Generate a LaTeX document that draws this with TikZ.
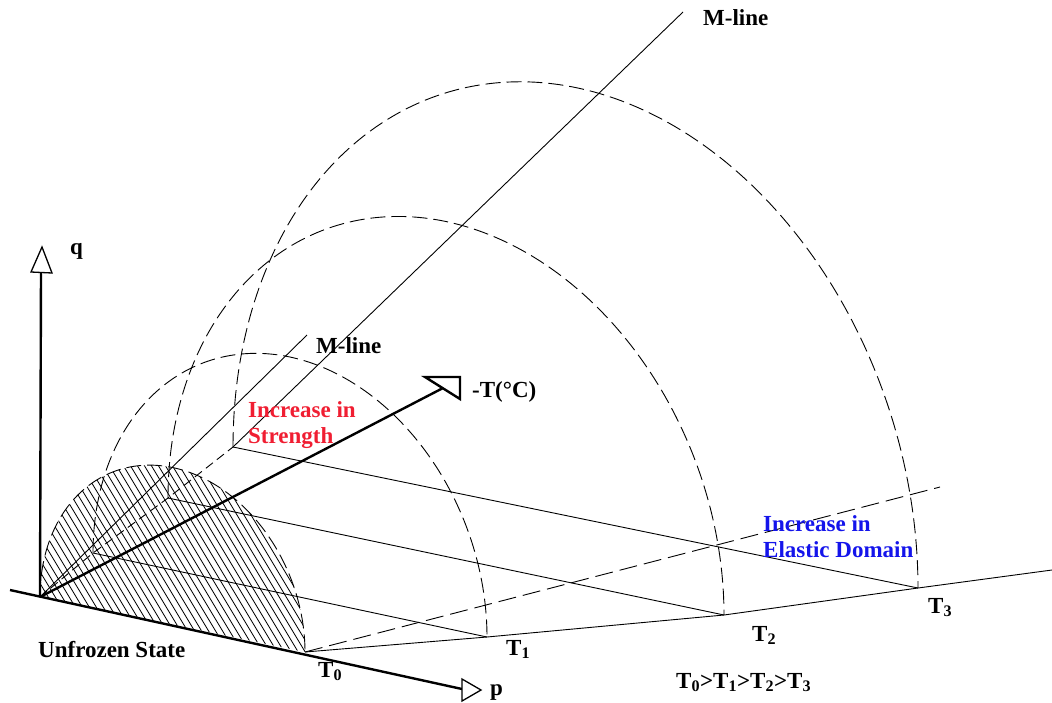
\documentclass[tikz,border=0pt]{standalone}
\usepackage{fontspec}
\setmainfont{Liberation Serif}
\definecolor{strred}{RGB}{240,30,50}
\definecolor{domblue}{RGB}{20,20,235}
\begin{document}
\begin{tikzpicture}[x=1pt,y=1pt,
  thinl/.style={line width=0.9pt},
  axisl/.style={line width=2.4pt},
  dsh/.style={line width=0.9pt, dash pattern=on 15pt off 6pt},
  dshb/.style={line width=0.9pt, dash pattern=on 18pt off 7pt},
  dshs/.style={line width=0.9pt, dash pattern=on 9pt off 5pt},
  hatchl/.style={line width=0.8pt},
  opentip/.style={line width=1.3pt, fill=white, line join=miter},
  lbl/.style={font=\fontsize{23}{27}\selectfont\bfseries, inner sep=0pt, anchor=base west},
  ]
\useasboundingbox (0,0) rectangle (1052,-702);

% key points (image px, y downward -> negative)
\coordinate (O)  at (40,-597);
\coordinate (P1) at (93,-553);
\coordinate (P2) at (168,-498);
\coordinate (P3) at (233,-447);
\coordinate (T0) at (305,-652);
\coordinate (T1) at (487,-637);
\coordinate (T2) at (724,-615);
\coordinate (T3) at (918,-588);
\coordinate (Tend) at (1052,-570);
\coordinate (pstart) at (10,-590);
\coordinate (pend) at (462,-689);
\coordinate (qend) at (41,-272);
\coordinate (Tax) at (443,-388);
\coordinate (M0end) at (307,-335);
\coordinate (M3end) at (683,-12);
\coordinate (Eend) at (940,-487);

% hatched unfrozen domain
\begin{scope}
\clip plot[domain=180:0,samples=120,variable=\t]
  ({172.5+132.5*cos(\t)}, {-624.5-27.5*cos(\t)+157*sin(\t)}) -- cycle;
\foreach \k in {0,...,72}
  \draw[hatchl] ({-130+7*\k}, -440) -- ({-130+7*\k+0.6*240}, -680);
\end{scope}
\draw[dsh] plot[domain=180:0,samples=120,variable=\t]
  ({172.5+132.5*cos(\t)}, {-624.5-27.5*cos(\t)+157*sin(\t)});

% yield surfaces (dashed half-ellipses)
\draw[dsh] plot[domain=180:0,samples=150,variable=\t]
  ({290+197*cos(\t)}, {-595-42*cos(\t)+238*sin(\t)});
\draw[dsh] plot[domain=180:0,samples=180,variable=\t]
  ({446+278*cos(\t)}, {-556.5-58.5*cos(\t)+335*sin(\t)});
\draw[dsh] plot[domain=180:0,samples=220,variable=\t]
  ({575.5+342.5*cos(\t)}, {-517.5-70.5*cos(\t)+430*sin(\t)});

% p-axes of the planes
\draw[thinl] (P1) -- (T1);
\draw[thinl] (P2) -- (T2);
\draw[thinl] (P3) -- (T3);
% line through the ends
\draw[thinl] (T0) -- (T1) -- (T2) -- (T3) -- (Tend);
% line of origins
\draw[dshs] (O) -- (P1) -- (P2) -- (P3);
% M-lines
\draw[thinl] (O) -- (M0end);
\draw[thinl] (P3) -- (M3end);
% increase in elastic domain
\draw[dshb] (T0) -- (Eend);

% axes
\draw[axisl] (pstart) -- (pend);
\draw[opentip] (pend) ++(0,10) -- ++(19,-11) -- ++(-19,-11) -- cycle;
\draw[axisl] (O) -- (qend);
\draw[opentip] (qend) ++(-10,0) -- ++(11,25) -- ++(10,-26) -- cycle;
\draw[axisl] (O) -- (Tax);
\draw[line width=2.4pt, line join=miter] (425,-377) -- (460,-377) -- (460,-399) -- cycle;

% labels
\node[lbl] (qlab) at (70,-254) {q};
\node[lbl] (plab) at (490,-695) {p};
\node[lbl] (tlab) at (472,-397) {-T(°C)};
\node[lbl] (m0lab) at (316,-353) {M-line};
\node[lbl] (m3lab) at (703,-25) {M-line};
\node[lbl] (unf) at (38,-657) {Unfrozen State};
\node[lbl] (t0lab) at (318,-677) {T\textsubscript{0}};
\node[lbl] (t1lab) at (506,-655) {T\textsubscript{1}};
\node[lbl] (t2lab) at (752,-641) {T\textsubscript{2}};
\node[lbl] (t3lab) at (928,-613) {T\textsubscript{3}};
\node[lbl] (order) at (676,-688) {T\textsubscript{0}>T\textsubscript{1}>T\textsubscript{2}>T\textsubscript{3}};
\node[lbl, text=strred] (str1) at (248,-417) {Increase in};
\node[lbl, text=strred] (str2) at (248,-443) {Strength};
\node[lbl, text=domblue] (el1) at (763,-531) {Increase in};
\node[lbl, text=domblue] (el2) at (763,-557) {Elastic Domain};
\end{tikzpicture}
\end{document}
